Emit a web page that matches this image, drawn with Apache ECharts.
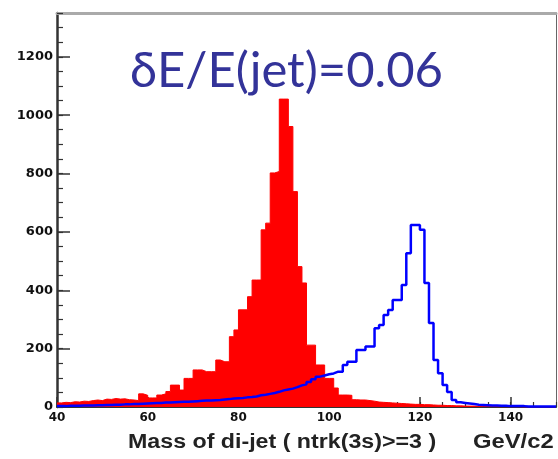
<!DOCTYPE html>
<html>
<head>
<meta charset="utf-8">
<script src="https://cdn.jsdelivr.net/npm/echarts@6/dist/echarts.min.js"></script>
<style>html,body{margin:0;padding:0;background:#fff;}#c{width:558px;height:459px;}</style>
</head>
<body>
<div id="c"></div>
<script>
// Histogram bins: 1 GeV wide, lower edges from 40 to 149
const binStart = 40;
const binWidth = 1;
const xTicks = [40, 60, 80, 100, 120, 140];
const yTicks = [0, 200, 400, 600, 800, 1000, 1200];
// Red filled histogram (Z-like peak)
const redCounts = [
  14, 16, 15, 18, 17, 20, 19, 22, 24, 22,      // 40-49
  27, 26, 29, 27, 28, 25, 24, 22, 45, 40,      // 50-59
  31, 31, 41, 45, 53, 75, 75, 58, 98, 98,      // 60-69
  127, 127, 121, 121, 121, 161, 155, 155, 241, 264, // 70-79
  333, 333, 378, 435, 435, 607, 630, 802, 807, 1055, // 80-89
  1055, 961, 738, 481, 425, 212, 212, 144, 144, 98,  // 90-99
  98, 65, 41, 41, 40, 25, 24, 24, 22, 20,      // 100-109
  17, 16, 15, 14, 13, 12, 11, 10, 9, 9,        // 110-119
  8, 8, 7, 6, 6, 5, 5, 4, 4, 3,                // 120-129
  3, 3, 2, 2, 2, 2, 1, 1, 1, 1,                // 130-139
  1, 1, 0, 0, 0, 0, 0, 0, 0, 0                 // 140-149
];
// Blue outline histogram (peak near 119)
const blueCounts = [
  3, 3, 4, 4, 4, 5, 5, 5, 6, 6,                // 40-49
  7, 7, 8, 8, 9, 9, 10, 10, 11, 12,            // 50-59
  13, 14, 14, 15, 15, 16, 17, 18, 18, 19,      // 60-69
  20, 21, 22, 22, 23, 24, 26, 27, 29, 30,      // 70-79
  31, 33, 34, 36, 40, 42, 45, 48, 52, 57,      // 80-89
  60, 63, 68, 74, 78, 86, 95, 104, 108, 112,   // 90-99
  115, 121, 121, 144, 155, 155, 195, 195, 207, 207, // 100-109
  270, 281, 315, 332, 367, 367, 418, 527, 624, 624, // 110-119
  607, 425, 288, 161, 116, 75, 51, 24, 16, 14, // 120-129
  12, 10, 8, 7, 6, 5, 5, 4, 4, 3,              // 130-139
  3, 3, 3, 2, 2, 2, 2, 2, 2, 2                 // 140-149
];
const plotLabel = 'δE/E(jet)=0.06';
const xTitle = 'Mass of di-jet ( ntrk(3s)>=3 )';
const xUnit = 'GeV/c2';

function stepData(counts) {
  const d = counts.map((v, i) => [binStart + i * binWidth, v]);
  d.push([binStart + counts.length * binWidth, counts[counts.length - 1]]);
  return d;
}

const chart = echarts.init(document.getElementById('c'), null, {renderer: 'canvas'});
const xMin = 40, xMax = 150, yMin = 0, yMax = 1350;
const tickColor = '#333';
const labelFont = 'DejaVu Sans';

chart.setOption({
  animation: false,
  backgroundColor: '#fff',
  grid: {left: 57, right: 2, top: 13, bottom: 52, containLabel: false},
  xAxis: [
    {
      type: 'value', min: xMin, max: xMax, interval: 20, position: 'bottom',
      axisLine: {show: true, onZero: false, lineStyle: {color: tickColor, width: 2}},
      axisTick: {show: true, inside: true, length: 10, lineStyle: {color: tickColor, width: 1.5}},
      axisLabel: {show: true, fontFamily: labelFont, fontSize: 12, fontWeight: 'bold', color: '#111', margin: 5,
        showMaxLabel: false,
        formatter: v => (xTicks.indexOf(v) >= 0 ? String(v) : '')},
      splitLine: {show: false}
    },
    {
      type: 'value', min: xMin, max: xMax, interval: 5, position: 'bottom',
      axisLine: {show: false, onZero: false},
      axisTick: {show: true, inside: true, length: 5, lineStyle: {color: tickColor, width: 1.2}},
      axisLabel: {show: false}, splitLine: {show: false}
    },
    {
      type: 'value', min: xMin, max: xMax, position: 'top',
      axisLine: {show: true, onZero: false, lineStyle: {color: '#aaa', width: 3}},
      axisTick: {show: false}, axisLabel: {show: false}, splitLine: {show: false}
    }
  ],
  yAxis: [
    {
      type: 'value', min: yMin, max: yMax, interval: 200, position: 'left',
      axisLine: {show: true, onZero: false, lineStyle: {color: tickColor, width: 2.5}},
      axisTick: {show: true, inside: true, length: 13, lineStyle: {color: tickColor, width: 1.5}},
      axisLabel: {show: true, fontFamily: labelFont, fontSize: 13, fontWeight: 'bold', color: '#111', margin: 4,
        showMaxLabel: false,
        formatter: v => (yTicks.indexOf(v) >= 0 ? String(v) : '')},
      splitLine: {show: false}
    },
    {
      type: 'value', min: yMin, max: yMax, interval: 50, position: 'left',
      axisLine: {show: false, onZero: false},
      axisTick: {show: true, inside: true, length: 6, lineStyle: {color: tickColor, width: 1.2}},
      axisLabel: {show: false}, splitLine: {show: false}
    },
    {
      type: 'value', min: yMin, max: yMax, position: 'right',
      axisLine: {show: true, onZero: false, lineStyle: {color: '#666', width: 1}},
      axisTick: {show: false}, axisLabel: {show: false}, splitLine: {show: false}
    }
  ],
  series: [
    {
      type: 'line', name: 'red', xAxisIndex: 0, yAxisIndex: 0,
      step: 'end', showSymbol: false, symbol: 'none', z: 2,
      lineStyle: {color: '#ff0000', width: 1},
      areaStyle: {color: '#ff0000', opacity: 1},
      data: stepData(redCounts)
    },
    {
      type: 'line', name: 'blue', xAxisIndex: 0, yAxisIndex: 0,
      step: 'end', showSymbol: false, symbol: 'none', z: 3,
      lineStyle: {color: '#0000ff', width: 2.5},
      data: stepData(blueCounts)
    }
  ],
  graphic: [
    {
      type: 'text', x: 130, y: 71, z: 10,
      style: {text: plotLabel, font: '49px Lato', fill: '#333399',
        textAlign: 'left', align: 'left', textVerticalAlign: 'middle', verticalAlign: 'middle'}
    },
    {
      type: 'text', x: 128, y: 442, scaleX: 1.16, scaleY: 1, z: 10,
      style: {text: xTitle, font: 'bold 20px "Liberation Sans"', fill: '#222',
        textAlign: 'left', align: 'left', textVerticalAlign: 'middle', verticalAlign: 'middle'}
    },
    {
      type: 'text', x: 473, y: 442, scaleX: 1.19, scaleY: 1, z: 10,
      style: {text: xUnit, font: 'bold 20px "Liberation Sans"', fill: '#222',
        textAlign: 'left', align: 'left', textVerticalAlign: 'middle', verticalAlign: 'middle'}
    }
  ]
});
</script>
</body>
</html>
